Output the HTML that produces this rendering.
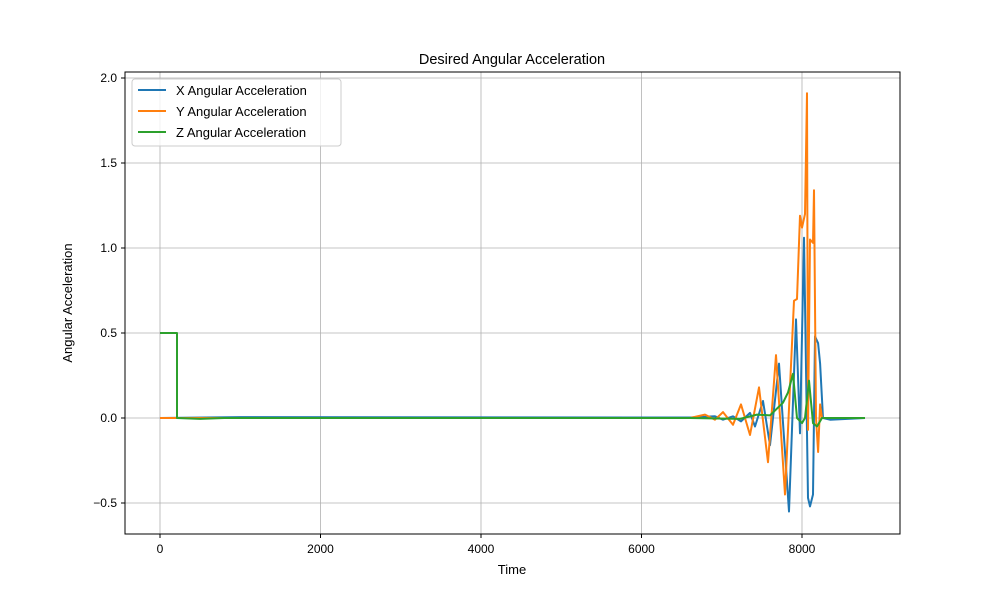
<!DOCTYPE html>
<html><head><meta charset="utf-8"><style>body{margin:0;background:#fff}svg{font-family:"Liberation Sans","DejaVu Sans",sans-serif}</style></head>
<body>
<svg id="chart" width="1000" height="600" xmlns="http://www.w3.org/2000/svg">
<rect width="1000" height="600" fill="#fff"/>
<g id="grid"></g>
<g id="series"></g>
<rect x="125" y="72" width="775" height="462" fill="none" stroke="#000" stroke-width="1"/>
<g id="ticks" font-size="12"></g>
<text x="512" y="64" text-anchor="middle" font-size="14.5">Desired Angular Acceleration</text>
<text x="512" y="574" text-anchor="middle" font-size="13">Time</text>
<text transform="translate(72,303) rotate(-90)" text-anchor="middle" font-size="13">Angular Acceleration</text>
<g>
<rect x="132" y="79" width="209" height="67" rx="3" fill="#fff" fill-opacity="0.8" stroke="#ccc"/>
<line x1="138" y1="90" x2="166" y2="90" stroke="#1f77b4" stroke-width="2"/>
<text x="176" y="95" font-size="13">X Angular Acceleration</text>
<line x1="138" y1="111" x2="166" y2="111" stroke="#ff7f0e" stroke-width="2"/>
<text x="176" y="116" font-size="13">Y Angular Acceleration</text>
<line x1="138" y1="132" x2="166" y2="132" stroke="#2ca02c" stroke-width="2"/>
<text x="176" y="137" font-size="13">Z Angular Acceleration</text>
</g>
</svg>
<script>
const xTicks=[0,2000,4000,6000,8000];
const yTicks=[-0.5,0,0.5,1.0,1.5,2.0];
const yTickLabels=["−0.5","0.0","0.5","1.0","1.5","2.0"];
const xT=[0,1000,6604,6916,7016,7140,7240,7352,7414,7514,7601,7713,7838,7925,7975,8025,8075,8100,8137,8162,8200,8225,8262,8349,8785];
const xV=[0,0.005,0.003,0.01,-0.01,0.01,-0.02,0.03,-0.05,0.1,-0.16,0.32,-0.55,0.58,-0.09,1.06,-0.47,-0.52,-0.45,0.48,0.44,0.32,0,-0.01,0];
const yT=[0,6604,6791,6916,7016,7140,7240,7352,7464,7576,7676,7788,7900,7938,7975,8000,8037,8062,8075,8100,8137,8150,8175,8200,8225,8249,8785];
const yV=[0,0,0.02,-0.01,0.035,-0.04,0.08,-0.1,0.18,-0.26,0.37,-0.45,0.69,0.7,1.19,1.12,1.2,1.91,-0.07,1.05,1.03,1.34,0,-0.2,0.08,0,0];
const zT=[0,212,212,500,800,6604,7227,7439,7601,7763,7825,7888,7938,8000,8037,8087,8137,8187,8249,8785];
const zV=[0.5,0.5,0,-0.005,0,0,-0.005,0.02,0.015,0.09,0.15,0.26,0,-0.03,0,0.22,-0.03,-0.05,0,0];
const sx=t=>160+t*(160.5/2000);
const sy=v=>418-v*170;
const NS="http://www.w3.org/2000/svg";
const grid=document.getElementById('grid'),ticks=document.getElementById('ticks'),ser=document.getElementById('series');
function mk(tag,attrs,parent){const e=document.createElementNS(NS,tag);for(const k in attrs)e.setAttribute(k,attrs[k]);parent.appendChild(e);return e;}
xTicks.forEach(t=>{const x=sx(t);
 const g=mk('line',{x1:x,x2:x,y1:72,y2:534,stroke:'#b0b0b0','stroke-width':0.8},grid);
 
 
 mk('line',{x1:x,x2:x,y1:534,y2:538,stroke:'#000'},ticks);
 const l=mk('text',{x:x,y:553,'text-anchor':'middle'},ticks);l.textContent=t;
 
 });
yTicks.forEach((v,i)=>{const y=sy(v);
 const g=mk('line',{x1:125,x2:900,y1:y,y2:y,stroke:'#b0b0b0','stroke-width':0.8},grid);
 
 
 mk('line',{x1:121,x2:125,y1:y,y2:y,stroke:'#000'},ticks);
 const l=mk('text',{x:117,y:y+4,'text-anchor':'end'},ticks);l.textContent=yTickLabels[i];
 
 });
function line(T,V,c,name){const d=T.map((t,i)=>(i?'L':'M')+sx(t).toFixed(1)+','+sy(V[i]).toFixed(1)).join('');
 const p=mk('path',{d:d,fill:'none',stroke:c,'stroke-width':2,'stroke-linejoin':'round'},ser);
 
 }
line(xT,xV,'#1f77b4','x-acceleration-line');
line(yT,yV,'#ff7f0e','y-acceleration-line');
line(zT,zV,'#2ca02c','z-acceleration-line');
</script>
</body></html>
